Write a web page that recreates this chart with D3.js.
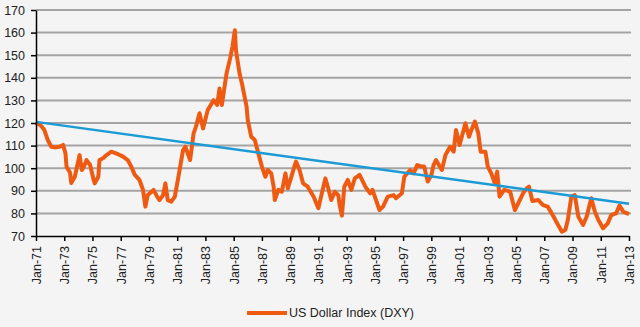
<!DOCTYPE html>
<html>
<head>
<meta charset="utf-8">
<script src="https://cdn.jsdelivr.net/npm/d3@7"></script>
<style>
  html, body { margin: 0; padding: 0; background: #f4f4f4; }
  svg { display: block; font-family: "Liberation Sans", Arial, sans-serif; }
  .grid line { stroke: #a4a4a4; stroke-width: 2; }
  .axis path, .axis line { stroke: #000; stroke-width: 1.5; }
  .axis text { fill: #222; font-size: 12.5px; }
</style>
</head>
<body>
<svg id="chart"></svg>
<script>
'use strict'

// monthly readings of the index
const months = [
  "1971-01","1971-05","1971-08","1971-11","1972-02","1972-05","1972-09","1972-12",
  "1973-02","1973-03","1973-06","1973-07","1973-10","1974-02","1974-04","1974-06",
  "1974-08","1974-11","1975-02","1975-03","1975-06","1975-07","1975-10","1976-01",
  "1976-05","1976-09","1977-03","1977-07","1977-10","1978-01","1978-05","1978-08",
  "1978-10","1978-12","1979-05","1979-08","1979-10","1980-01","1980-03","1980-05",
  "1980-08","1980-11","1981-02","1981-06","1981-08","1981-12","1982-03","1982-05",
  "1982-08","1982-11","1983-03","1983-08","1983-11","1984-01","1984-03","1984-07",
  "1984-10","1984-12","1985-02","1985-03","1985-06","1985-08","1985-12","1986-01",
  "1986-04","1986-07","1986-10","1987-01","1987-04","1987-06","1987-09","1987-11",
  "1987-12","1988-03","1988-06","1988-09","1988-11","1989-02","1989-05","1989-06",
  "1989-09","1989-12","1990-04","1990-09","1991-01","1991-04","1991-07","1991-09",
  "1991-12","1992-03","1992-06","1992-07","1992-09","1992-11","1993-02","1993-05",
  "1993-08","1993-12","1994-05","1994-09","1994-11","1995-03","1995-05","1995-08",
  "1995-12","1996-05","1996-07","1996-12","1997-02","1997-07","1997-10","1998-01",
  "1998-05","1998-07","1998-10","1999-01","1999-03","1999-05","1999-10","2000-01",
  "2000-05","2000-08","2000-10","2001-01","2001-06","2001-09","2001-11","2002-02",
  "2002-05","2002-07","2002-11","2003-01","2003-04","2003-07","2003-09","2003-11",
  "2004-03","2004-08","2004-12","2005-03","2005-07","2005-10","2005-12","2006-03",
  "2006-08","2006-12","2007-04","2007-09","2007-12","2008-04","2008-07","2008-09",
  "2008-12","2009-03","2009-06","2009-10","2010-01","2010-05","2010-08","2010-11",
  "2011-03","2011-07","2011-10","2012-02","2012-05","2012-08","2013-01"
]
const dxy = [
  120.1,119.0,117.0,112.5,109.5,109.2,109.5,110.3,
  106.6,100.7,98.0,93.4,96.2,105.8,99.2,101.0,
  103.6,101.4,94.8,93.3,96.2,103.6,104.4,105.8,
  107.3,106.6,105.1,103.6,100.7,97.0,94.8,90.4,
  83.0,88.1,90.4,87.4,85.9,88.1,93.3,85.9,
  85.2,87.4,96.2,108.0,109.5,103.6,115.4,118.4,
  124.3,117.6,125.7,130.1,128.0,135.3,128.0,142.0,
  148.6,153.8,161.0,152.3,142.0,137.6,127.2,121.3,
  113.9,112.5,106.6,100.7,96.2,99.2,97.7,91.8,
  85.9,90.4,89.6,97.7,91.1,96.2,101.4,102.9,
  99.2,93.3,91.8,87.4,82.3,88.9,95.5,91.8,
  85.9,89.6,88.0,84.0,79.0,91.8,94.8,90.4,
  95.5,97.0,91.8,88.9,90.4,84.5,81.5,83.0,
  87.4,88.1,86.7,88.9,96.2,99.2,97.7,101.4,
  100.7,100.7,94.1,97.0,101.4,103.6,99.2,105.8,
  109.5,107.3,116.9,110.3,119.9,113.9,116.9,120.6,
  115.4,107.3,107.3,100.7,97.7,93.3,98.5,87.4,
  90.4,89.6,81.5,84.5,88.9,91.1,91.8,85.5,
  85.9,83.7,83.0,78.5,75.6,71.9,72.7,77.1,
  87.4,88.1,78.5,74.9,78.5,86.7,80.8,77.1,
  73.4,75.6,79.3,80.0,83.5,80.8,79.7
]

// straight trend line, end points
const trendMonths = ["1971-01", "2013-01"]
const trendValues = [120.5, 84.3]

const xTickLabels = ["Jan-71","Jan-73","Jan-75","Jan-77","Jan-79","Jan-81","Jan-83","Jan-85",
  "Jan-87","Jan-89","Jan-91","Jan-93","Jan-95","Jan-97","Jan-99","Jan-01","Jan-03","Jan-05",
  "Jan-07","Jan-09","Jan-11","Jan-13"]
const yTicks = [70, 80, 90, 100, 110, 120, 130, 140, 150, 160, 170]
const seriesName = "US Dollar Index (DXY)"

const width = 640, height = 327
const margins = {top: 10, right: 11, bottom: 91, left: 36}
const parseMonth = d3.timeParse("%Y-%m")
const parseTick = d3.timeParse("%b-%y")

const svg = d3.select('#chart').attr("width", width).attr("height", height)

const x = d3.scaleTime()
  .domain([parseMonth("1971-01"), parseMonth("2013-01")])
  .range([margins.left, width - margins.right])
const y = d3.scaleLinear()
  .domain([70, 170])
  .range([height - margins.bottom, margins.top])

// horizontal gridlines
svg.append("g").attr("class", "grid")
  .selectAll("line")
  .data(yTicks.slice(1))
  .enter().append("line")
  .attr("x1", margins.left)
  .attr("x2", width - margins.right + 2)
  .attr("y1", d => y(d))
  .attr("y2", d => y(d))

const series = months.map((m, i) => ({date: parseMonth(m), value: dxy[i]}))
const trend = trendMonths.map((m, i) => ({date: parseMonth(m), value: trendValues[i]}))

const line = d3.line().x(d => x(d.date)).y(d => y(d.value))

svg.append("path")
  .datum(series)
  .attr("fill", "none")
  .attr("stroke", "#ee5a12")
  .attr("stroke-width", 4)
  .attr("stroke-linejoin", "round")
  .attr("d", line)

svg.append("path")
  .datum(trend)
  .attr("fill", "none")
  .attr("stroke", "#1b9ad6")
  .attr("stroke-width", 2.5)
  .attr("d", line)

// y axis
svg.append("g")
  .attr("class", "axis")
  .attr("transform", "translate(" + margins.left + ",0)")
  .call(d3.axisLeft(y).tickValues(yTicks).tickSize(5).tickSizeOuter(0).tickPadding(6))

// x axis, labels turned upright
const xAxis = svg.append("g")
  .attr("class", "axis")
  .attr("transform", "translate(0," + y(70) + ")")
  .call(d3.axisBottom(x)
    .tickValues(xTickLabels.map(parseTick))
    .tickFormat((d, i) => xTickLabels[i])
    .tickSize(5).tickSizeOuter(0))

xAxis.selectAll("text")
  .attr("transform", "rotate(-90)")
  .attr("text-anchor", "end")
  .attr("x", -10)
  .attr("y", 0)
  .attr("dy", "0.35em")

// legend
const legend = svg.append("g").attr("transform", "translate(247," + 313 + ")")
legend.append("line")
  .attr("x1", 0).attr("x2", 40)
  .attr("stroke", "#ee5a12").attr("stroke-width", 4)
legend.append("text")
  .attr("x", 42).attr("dy", "0.35em")
  .attr("font-size", "12.5px").attr("fill", "#222")
  .text(seriesName)
</script>
</body>
</html>
